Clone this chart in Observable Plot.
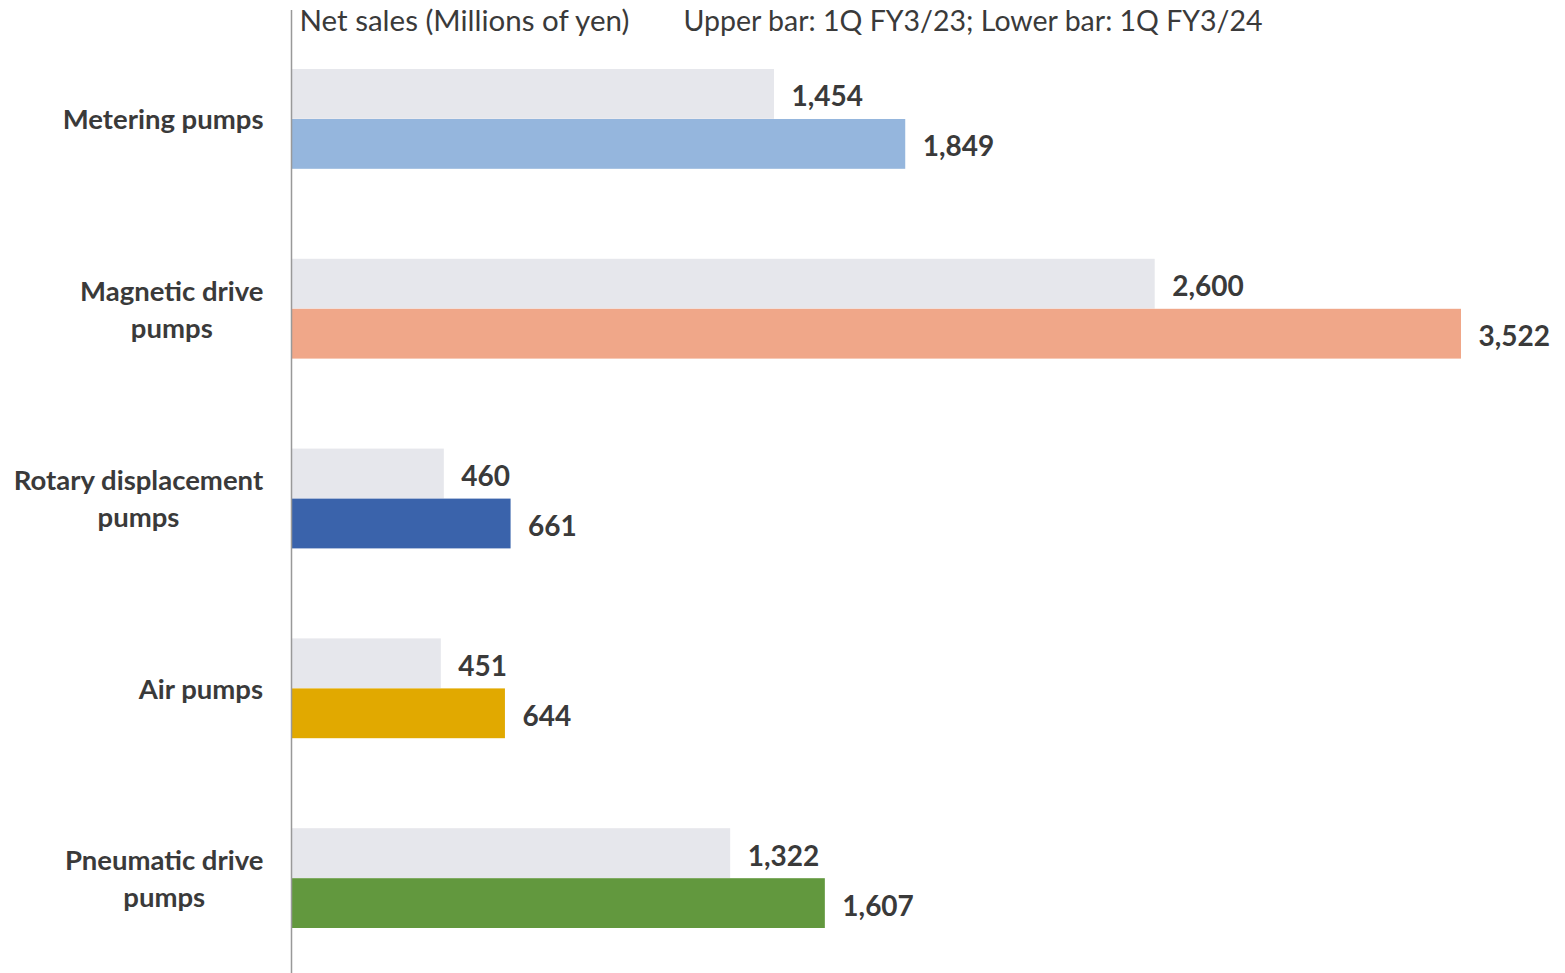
<!DOCTYPE html>
<html>
<head>
<meta charset="utf-8">
<script src="https://cdn.jsdelivr.net/npm/d3@7"></script>
<script src="https://cdn.jsdelivr.net/npm/@observablehq/plot@0.6"></script>
<style>
  html, body { margin: 0; padding: 0; background: #fff; }
  #chart svg { display: block; }
</style>
</head>
<body>
<div id="chart"></div>
<script>
const categories = ["Metering pumps", "Magnetic drive\npumps", "Rotary displacement\npumps", "Air pumps", "Pneumatic drive\npumps"];
const fy23 = [1454, 2600, 460, 451, 1322];
const fy24 = [1849, 3522, 661, 644, 1607];
const fy24Colors = ["#95b6dd", "#f0a789", "#3a63ab", "#e1a900", "#62983e"];
const upperColor = "#e6e7ec";
const titleLeft = "Net sales (Millions of yen)";
const titleRight = "Upper bar: 1Q FY3/23; Lower bar: 1Q FY3/24";

const rows = categories.map((c, i) => ({cat: c, prev: fy23[i], curr: fy24[i], color: fy24Colors[i]}));
const fmt = d3.format(",");
const font = "Lato, 'Open Sans', sans-serif";
const textColor = "#3a3a3a";

const plot = Plot.plot({
  width: 1565,
  height: 973,
  marginLeft: 291,
  marginRight: 104,
  marginTop: 24,
  marginBottom: 0,
  style: {fontFamily: font, color: textColor, background: "#fff"},
  x: {domain: [0, 3522], axis: null},
  y: {domain: categories, padding: 0, label: null, round: false},
  marks: [
    Plot.barX(rows, {y: "cat", x: "prev", fill: upperColor, insetTop: 45, insetBottom: 95}),
    Plot.barX(rows, {y: "cat", x: "curr", fill: "color", insetTop: 95, insetBottom: 45}),
    Plot.text(rows, {y: "cat", x: "prev", text: d => fmt(d.prev), textAnchor: "start", dx: 17, dy: -22,
      fontSize: 28, fontWeight: "bold", fill: textColor}),
    Plot.text(rows, {y: "cat", x: "curr", text: d => fmt(d.curr), textAnchor: "start", dx: 17, dy: 28,
      fontSize: 28, fontWeight: "bold", fill: textColor}),
    Plot.axisY({tickSize: 0, tickPadding: 28, fontSize: 27.5, fontWeight: "bold", lineHeight: 1.35, dy: -2, label: null, fill: textColor}),
    Plot.ruleX([0], {stroke: "#999", strokeWidth: 1.5, insetTop: -14}),
    Plot.text([titleLeft], {frameAnchor: "top-left", dx: 8, dy: -3, lineAnchor: "middle", textAnchor: "start",
      fontSize: 29.5, fill: textColor}),
    Plot.text([titleRight], {frameAnchor: "top-left", dx: 392, dy: -3, lineAnchor: "middle", textAnchor: "start",
      fontSize: 28.5, fill: textColor})
  ]
});

document.getElementById("chart").appendChild(plot);

// center multi-line category labels on their longest line, right-aligned as a block
const axisTexts = plot.querySelectorAll("g[aria-label='y-axis tick label'] text");
axisTexts.forEach(t => {
  const w = t.getBBox().width;
  t.setAttribute("text-anchor", "middle");
  const tr = t.getAttribute("transform") || "";
  t.setAttribute("transform", tr + ` translate(${-w / 2},0)`);
});
</script>
</body>
</html>
